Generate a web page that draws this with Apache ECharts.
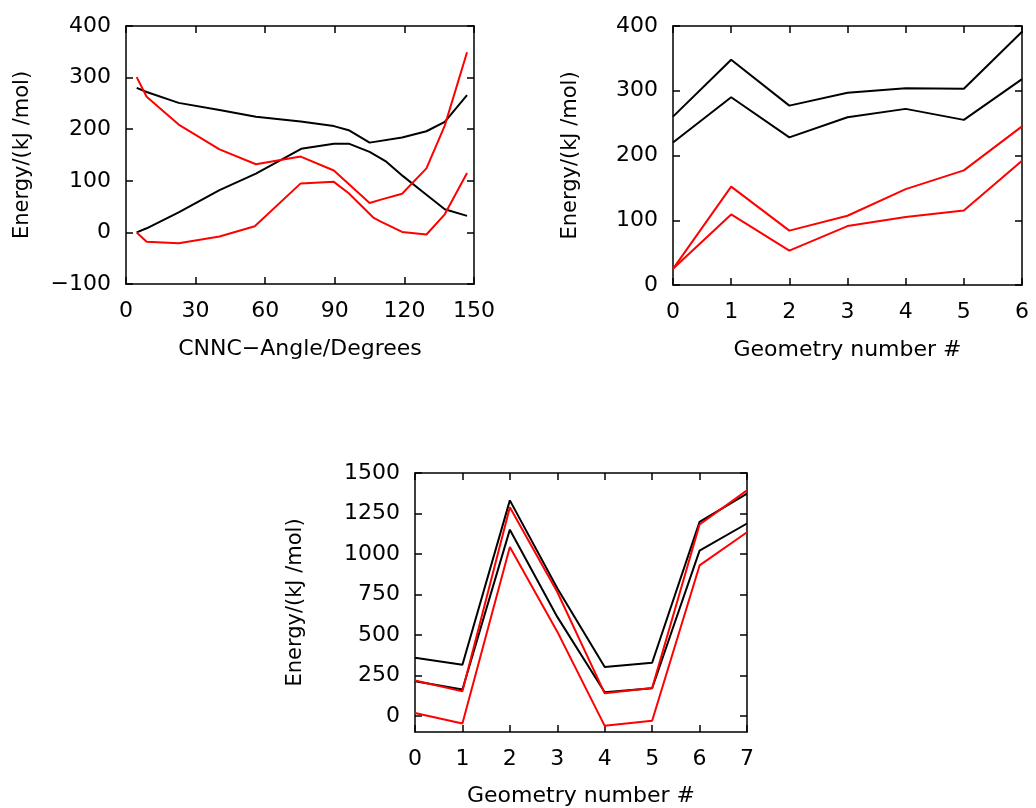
<!DOCTYPE html>
<html>
<head>
<meta charset="utf-8">
<script src="https://cdn.jsdelivr.net/npm/echarts@6/dist/echarts.min.js"></script>
<style>
  html, body { margin: 0; padding: 0; background: #fff; }
  #chart { width: 1036px; height: 808px; }
</style>
</head>
<body>
<div id="chart"></div>
<script>
// ---- Panel 1: energy along the CNNC torsion angle ([angle, energy]) ----
const angleBlackUpper = [[4.6,280],[8.9,272],[22.7,251],[40.3,237],[56,224],[75.3,215],[89.6,206],[96,198],[105,174],[119,184],[129.5,196],[137.4,214],[147,266]];
const angleBlackLower = [[4.6,0],[8.9,8],[22.7,39],[40.3,82],[56,114],[75.5,162],[89.6,172],[96,172],[105,156],[112.2,137],[119.4,109],[129.5,73],[137.4,45],[147,32]];
const angleRedUpper   = [[4.6,301],[8.9,263],[22.7,209],[40.3,161],[56,132],[75.3,147],[89.6,120],[105,57],[109.5,63],[119,75],[129.5,124],[137.4,207],[147,349]];
const angleRedLower   = [[4.6,0],[8.9,-18],[22.7,-21],[40.3,-8],[55.5,12],[75.3,95],[89.6,98],[96,76],[106.8,28],[109.4,22],[119,1],[129.5,-4],[137.4,35],[147,115]];

// ---- Panel 2: geometries 0..6 ----
const geomA = [0,1,2,3,4,5,6];
const geoABlackUpper = [260,348,277,297,304,303,391];
const geoABlackLower = [220,290,228,259,272,255,318];
const geoARedUpper   = [25,152,84,107,148,177,245];
const geoARedLower   = [25,109,53,91,105,115,192];

// ---- Panel 3: geometries 0..7 ----
const geomB = [0,1,2,3,4,5,6,7];
const geoBBlackUpper = [359,315,1331,788,301,328,1198,1372];
const geoBBlackLower = [213,162,1150,611,145,170,1020,1188];
const geoBRedUpper   = [218,151,1289,765,139,172,1182,1393];
const geoBRedLower   = [17,-48,1043,520,-62,-31,929,1134];

// ---- Tick values ----
const panel3YTicks = [0,250,500,750,1000,1250,1500];

const FONT = 'DejaVu Sans';
const FS = 22;
const BLACK = '#000000';
const RED = '#ff0000';

function pairs(xs, ys) { return xs.map((x, i) => [x, ys[i]]); }
function minusFmt(v) { return v < 0 ? '\u2212' + Math.abs(v) : String(v); }

const lineAxis = { show: true, onZero: false, lineStyle: { color: BLACK, width: 1.5 } };
const tickIn = { show: true, inside: true, length: 7, lineStyle: { color: BLACK, width: 1.5 } };
const label = { fontFamily: FONT, fontSize: FS, color: BLACK, margin: 15 };
const xNameStyle = { fontFamily: FONT, fontSize: FS, color: BLACK };
const yNameStyle = { fontFamily: FONT, fontSize: 21, color: BLACK };

function xAxisPair(grid, min, max, interval, name, nameGap) {
  return [
    { type: 'value', gridIndex: grid, position: 'bottom', min, max, interval,
      axisLine: lineAxis, axisTick: tickIn, splitLine: { show: false },
      axisLabel: Object.assign({ formatter: minusFmt }, label, { margin: 16 }),
      name, nameLocation: 'middle', nameGap, nameTextStyle: xNameStyle },
    { type: 'value', gridIndex: grid, position: 'top', min, max, interval,
      axisLine: lineAxis, axisTick: tickIn, splitLine: { show: false },
      axisLabel: { show: false } }
  ];
}
function yAxisPair(grid, min, max, interval, name, nameGap, custom) {
  const main = { type: 'value', gridIndex: grid, position: 'left', min, max, interval,
      axisLine: lineAxis, axisTick: Object.assign({}, tickIn), splitLine: { show: false },
      axisLabel: Object.assign({ formatter: minusFmt }, label),
      name, nameLocation: 'middle', nameGap, nameRotate: 90, nameTextStyle: yNameStyle };
  const mirror = { type: 'value', gridIndex: grid, position: 'right', min, max, interval,
      axisLine: lineAxis, axisTick: Object.assign({}, tickIn), splitLine: { show: false },
      axisLabel: { show: false } };
  if (custom) {
    main.axisTick.customValues = custom;
    main.axisLabel.customValues = custom;
    mirror.axisTick.customValues = custom;
  }
  return [main, mirror];
}

function line(xi, yi, data, color) {
  return { type: 'line', xAxisIndex: xi, yAxisIndex: yi, data, showSymbol: false,
           symbol: 'none', lineStyle: { color, width: 2 }, itemStyle: { color } };
}

const yName = 'Energy/(kJ /mol)';

const option = {
  animation: false,
  backgroundColor: '#ffffff',
  grid: [
    { left: 126, top: 26, width: 348, height: 258 },
    { left: 673, top: 26, width: 349, height: 259 },
    { left: 415, top: 473, width: 332, height: 259 }
  ],
  xAxis: [].concat(
    xAxisPair(0, 0, 150, 30, 'CNNC\u2212Angle/Degrees', 54),
    xAxisPair(1, 0, 6, 1, 'Geometry number #', 54),
    xAxisPair(2, 0, 7, 1, 'Geometry number #', 53)
  ),
  yAxis: [].concat(
    yAxisPair(0, -100, 400, 100, yName, 93),
    yAxisPair(1, 0, 400, 100, yName, 92),
    yAxisPair(2, -100, 1500, null, yName, 109, panel3YTicks)
  ),
  series: [
    line(0, 0, angleBlackUpper, BLACK),
    line(0, 0, angleBlackLower, BLACK),
    line(0, 0, angleRedUpper, RED),
    line(0, 0, angleRedLower, RED),

    line(2, 2, pairs(geomA, geoABlackUpper), BLACK),
    line(2, 2, pairs(geomA, geoABlackLower), BLACK),
    line(2, 2, pairs(geomA, geoARedUpper), RED),
    line(2, 2, pairs(geomA, geoARedLower), RED),

    line(4, 4, pairs(geomB, geoBBlackUpper), BLACK),
    line(4, 4, pairs(geomB, geoBBlackLower), BLACK),
    line(4, 4, pairs(geomB, geoBRedUpper), RED),
    line(4, 4, pairs(geomB, geoBRedLower), RED)
  ]
};

const chart = echarts.init(document.getElementById('chart'), null, { renderer: 'canvas' });
chart.setOption(option);
</script>
</body>
</html>
